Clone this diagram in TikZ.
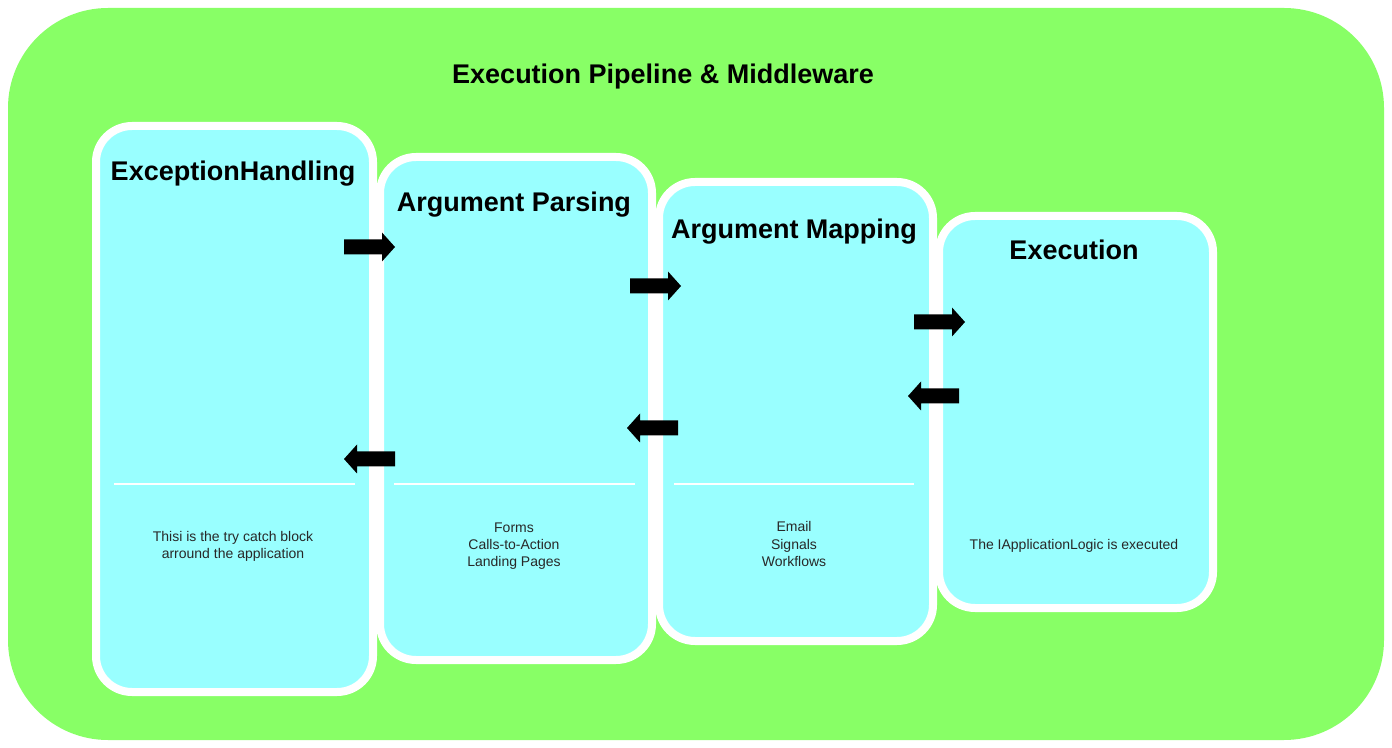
\documentclass[tikz,border=0pt]{standalone}
\usepackage{fontspec}
\setmainfont{Liberation Sans}
\definecolor{bggreen}{RGB}{136,255,102}
\definecolor{panelcyan}{RGB}{153,255,255}
\definecolor{bodytext}{RGB}{40,40,40}
\tikzset{
  panel/.style={draw=white, line width=4pt, fill=panelcyan, rounded corners=18pt},
  ptitle/.style={font=\fontsize{13.5}{16}\selectfont\bfseries, text=black, anchor=center, inner sep=0pt},
  pbody/.style={font=\fontsize{7}{8.6}\selectfont, text=bodytext, align=center, anchor=center, inner sep=0pt},
  divider/.style={draw=white, line width=1pt},
  blockarrow/.style={fill=black}
}
\begin{document}
\begin{tikzpicture}[x=0.5pt,y=-0.5pt]
\useasboundingbox (0,0) rectangle (1392,748);
\fill[white] (0,0) rectangle (1392,748);
% outer container
\fill[bggreen, rounded corners=50pt] (8,8) rectangle (1384,740);
\node[ptitle] (main) at (663,77) {Execution Pipeline \& Middleware};
% panels
\draw[panel] (96,126) rectangle (373,692);
\draw[panel] (380,157) rectangle (652,660);
\draw[panel] (659,182) rectangle (933,641);
\draw[panel] (939,216) rectangle (1213,608);
% titles
\node[ptitle] (t1) at (233,174) {ExceptionHandling};
\node[ptitle] (t2) at (514,205) {Argument Parsing};
\node[ptitle] (t3) at (794,232) {Argument Mapping};
\node[ptitle] (t4) at (1074,250) {Execution};
% dividers
\draw[divider] (114,484) -- (355,484);
\draw[divider] (394,484) -- (635,484);
\draw[divider] (674,484) -- (914,484);
% bodies
\node[pbody] (b1) at (233,546) {Thisi is the try catch block\\arround the application};
\node[pbody] (b2) at (514,546) {Forms\\Calls-to-Action\\Landing Pages};
\node[pbody] (b3) at (794,544) {Email\\Signals\\Workflows};
\node[pbody] (b4) at (1074,546) {The IApplicationLogic is executed};
% right arrows
\foreach \x/\y in {344/247, 630/286, 914/322}{
  \fill[blockarrow] (\x,\y-7.5) -- (\x+38,\y-7.5) -- (\x+38,\y-14.5) -- (\x+51,\y) -- (\x+38,\y+14.5) -- (\x+38,\y+7.5) -- (\x,\y+7.5) -- cycle;
}
% left arrows
\foreach \x/\y in {959/396, 678/428, 395/459}{
  \fill[blockarrow] (\x,\y-7.5) -- (\x-38,\y-7.5) -- (\x-38,\y-14.5) -- (\x-51,\y) -- (\x-38,\y+14.5) -- (\x-38,\y+7.5) -- (\x,\y+7.5) -- cycle;
}
\end{tikzpicture}
\end{document}
